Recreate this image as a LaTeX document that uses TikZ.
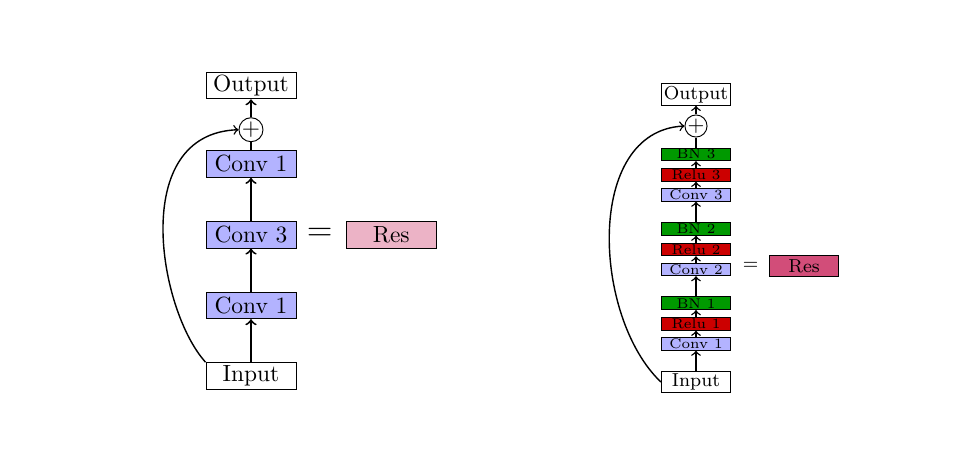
\documentclass[tikz,border=0pt]{standalone}
\usepackage{amsmath}
\usepackage{tikz}
\usepackage{xcolor}
\usetikzlibrary{positioning}
\definecolor{convblue}{RGB}{179,179,255}
\definecolor{relured}{RGB}{204,0,0}
\definecolor{bngreen}{RGB}{0,153,0}
\definecolor{respink}{RGB}{236,179,198}
\definecolor{resrose}{RGB}{210,77,121}

\begin{document}
\begin{tikzpicture}[
		bigbox/.style={draw, minimum width=1.35cm, minimum height=0.4cm, inner sep=1pt},
		iobig/.style={bigbox, fill=white},
		convbig/.style={bigbox, fill=convblue},
		resbig/.style={bigbox, fill=respink},
		addbig/.style={draw, circle, inner sep=0pt, minimum size=0.36cm},
		smallbox/.style={draw, minimum width=1.04cm, minimum height=0.19cm, inner sep=0pt,
			font=\fontsize{6}{6}\selectfont},
		convsmall/.style={smallbox, fill=convblue},
		relusmall/.style={smallbox, fill=relured},
		bnsmall/.style={smallbox, fill=bngreen},
		iosmall/.style={draw, minimum width=1.04cm, minimum height=0.31cm, inner sep=1pt,
			font=\footnotesize},
		ressmall/.style={iosmall, fill=resrose},
		addsmall/.style={draw, circle, inner sep=0pt, minimum size=0.27cm, font=\small},
		arrow/.style={->, thick},
		smallarrow/.style={->, semithick}
	]
		\useasboundingbox (0,0) rectangle (14.43,6.72);

		\node[iobig] (inL) at (3.765,1.08) {Input};
		\node[convbig, above=0.646cm of inL] (convaL) {Conv 1};
		\node[convbig, above=0.646cm of convaL] (convbL) {Conv 3};
		\node[convbig, above=0.646cm of convbL] (convcL) {Conv 1};
		\node[addbig, above=0.12cm of convcL] (addL) {$+$};
		\node[iobig, above=0.27cm of addL] (outL) {Output};
		\node[inner sep=0pt, right=0.15cm of convbL, font=\Large] (eqL) {$=$};
		\node[resbig, right=0.19cm of eqL] (resL) {Res};
		\draw[arrow] (inL) -- (convaL);
		\draw[arrow] (convaL) -- (convbL);
		\draw[arrow] (convbL) -- (convcL);
		\draw[thick] (convcL) -- (addL);
		\draw[arrow] (addL) -- (outL);
		\draw[smallarrow] (inL.north west) .. controls +(-0.705,0.78) and +(-1.65,-0.06) .. (addL.west);

		\node[iosmall] (inR) at (10.44,0.99) {Input};
		\node[convsmall, above=0.305cm of inR] (convaR) {Conv 1};
		\node[relusmall, above=0.095cm of convaR] (reluaR) {Relu 1};
		\node[bnsmall, above=0.105cm of reluaR] (bnaR) {BN 1};
		\node[convsmall, above=0.305cm of bnaR] (convbR) {Conv 2};
		\node[relusmall, above=0.095cm of convbR] (relubR) {Relu 2};
		\node[bnsmall, above=0.105cm of relubR] (bnbR) {BN 2};
		\node[convsmall, above=0.305cm of bnbR] (convcR) {Conv 3};
		\node[relusmall, above=0.095cm of convcR] (relucR) {Relu 3};
		\node[bnsmall, above=0.105cm of relucR] (bncR) {BN 3};
		\node[addsmall, above=0.15cm of bncR] (addR) {$+$};
		\node[iosmall, above=0.13cm of addR] (outR) {Output};
		\node[inner sep=0pt, right=0.17cm of convbR, yshift=0.05cm, font=\footnotesize] (eqR) {$=$};
		\node[ressmall, right=0.15cm of eqR] (resR) {Res};
		\draw[smallarrow] (inR) -- (convaR);
		\draw[smallarrow] (convaR) -- (reluaR);
		\draw[smallarrow] (reluaR) -- (bnaR);
		\draw[smallarrow] (bnaR) -- (convbR);
		\draw[smallarrow] (convbR) -- (relubR);
		\draw[smallarrow] (relubR) -- (bnbR);
		\draw[smallarrow] (bnbR) -- (convcR);
		\draw[smallarrow] (convcR) -- (relucR);
		\draw[smallarrow] (relucR) -- (bncR);
		\draw[semithick] (bncR) -- (addR);
		\draw[smallarrow] (addR) -- (outR);
		\draw[smallarrow] (inR.west) .. controls +(-1.026,0.98) and +(-1.5,-0.075) .. (addR.west);
	\end{tikzpicture}
\end{document}
